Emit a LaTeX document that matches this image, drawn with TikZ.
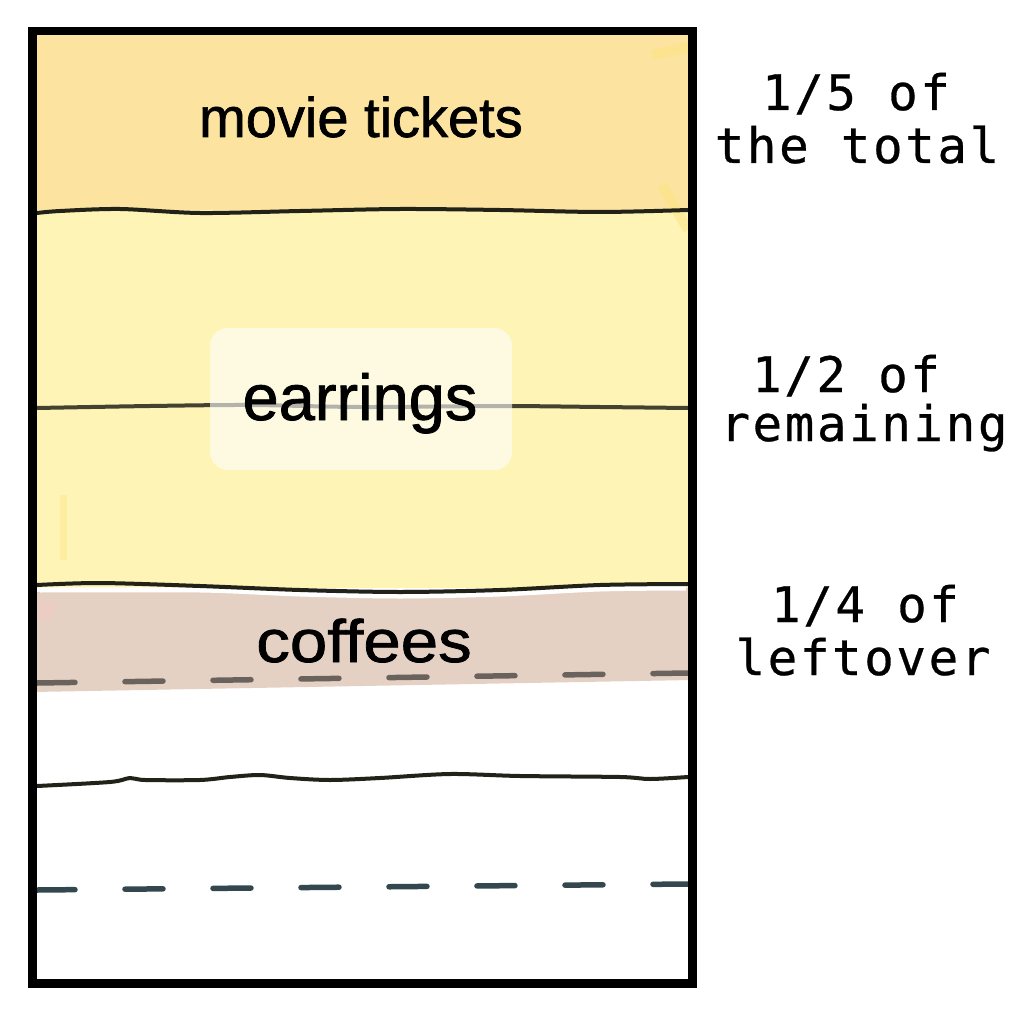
\documentclass[tikz,border=0pt]{standalone}
\usepackage{fontspec}
\setmainfont{Liberation Sans}
\newfontfamily\lblf[FakeBold=1.2]{Liberation Sans}
\newfontfamily\monof[LetterSpace=5.5,FakeBold=0.6]{DejaVu Sans Mono}
\definecolor{ticketc}{HTML}{FCE4A0}
\definecolor{earc}{HTML}{FDF4B6}
\definecolor{coffc}{HTML}{E5D1C4}
\definecolor{inkc}{HTML}{222218}
\definecolor{dashc}{HTML}{34474E}
\definecolor{dashb}{HTML}{6A625C}
\definecolor{hlc}{HTML}{FCE27A}
\tikzset{
  sline/.style={draw=inkc, line width=4pt, line cap=round, line join=round},
  dline/.style={draw=dashc, line width=5.5pt, line cap=round, dash pattern=on 38pt off 50pt},
  blabel/.style={anchor=base, inner sep=0pt, font=\lblf\fontsize{56}{60}\selectfont},
  mlabel/.style={anchor=base, inner sep=0pt, font=\monof\fontsize{49}{54}\selectfont},
}
\begin{document}
\begin{tikzpicture}[x=1pt,y=-1pt]
\useasboundingbox[fill=white] (0,0) rectangle (1024,1024);
% bands
\fill[ticketc] (33,31) rectangle (692,212);
\fill[earc] (33,210) rectangle (692,588);
\fill[coffc] (33,592) -- (692,588) -- (692,680) -- (33,692) -- cycle;
% faint highlighter marks
\draw[hlc, line width=10pt, opacity=0.45] (652,55) -- (690,47);
\draw[hlc, line width=10pt, opacity=0.45] (662,185) -- (688,230);
\draw[hlc, line width=7pt, opacity=0.35] (63,495) -- (63,560);
\fill[coffc!80!red!60!white, opacity=0.5] (38,600) rectangle (54,620);
% lines
\draw[sline] plot[smooth] coordinates {(37,213) (60,211) (120,209) (200,213) (300,211) (400,209) (500,210) (600,212) (688,210)};
\draw[sline, draw=inkc!85!earc] plot[smooth] coordinates {(37,408) (150,406) (250,405) (360,407) (500,406) (600,407) (688,408)};
\draw[white, line width=5pt] plot[smooth] coordinates {(40,590) (200,590) (300,594) (400,596) (500,594) (600,589) (686,588)};
\draw[sline] plot[smooth] coordinates {(37,585) (100,583) (200,586) (300,590) (400,592) (500,590) (600,585) (688,584)};
\draw[dline, draw=dashb, dash phase=0pt] (37,683) -- (688,673);
\draw[sline] plot[smooth] coordinates {(37,786) (110,782) (130,778) (145,780) (200,780) (230,777) (260,775) (290,778) (330,780) (380,778) (450,774) (520,776) (620,777) (650,779) (688,777)};
\draw[dline] (37,890) -- (688,884);
% outer frame
\draw[black, line width=8.5pt] (32.5,31) rectangle (692.5,983.5);
% labels in bands
\node[blabel] (movie) at (361,137) {movie tickets};
\node[fill=white, fill opacity=0.6, text opacity=1, rounded corners=18pt, minimum width=302pt, minimum height=142pt, inner sep=0pt] (earbox) at (361,399) {};
\node[blabel, font=\lblf\fontsize{65}{70}\selectfont] (earrings) at (360,420) {earrings};
\node[blabel, font=\lblf\fontsize{60}{66}\selectfont] (coffees) at (364,662) {\scalebox{1.12}[1]{coffees}};
% right-hand notes
\node[mlabel] (n1a) at (856,110) {1/5 of};
\node[mlabel] (n1b) at (857,163) {the total};
\node[mlabel] (n2a) at (846,392) {1/2 of};
\node[mlabel] (n2b) at (864,441) {remaining};
\node[mlabel] (n3a) at (865,622) {1/4 of};
\node[mlabel] (n3b) at (863,675) {leftover};
\end{tikzpicture}
\end{document}
